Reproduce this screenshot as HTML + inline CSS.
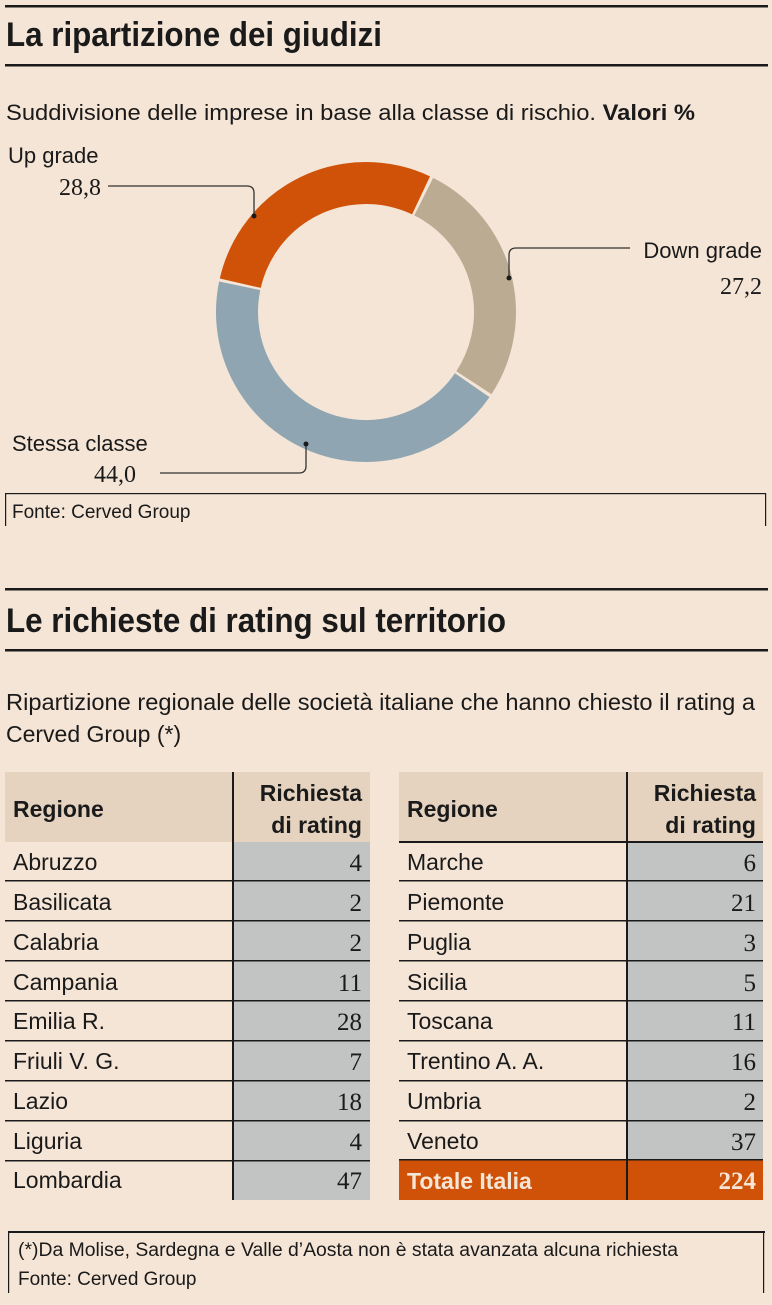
<!DOCTYPE html>
<html><head><meta charset="utf-8"><style>
html,body{margin:0;padding:0;background:#f5e5d6;}
svg{display:block}
.s{font-family:"Liberation Sans Narrow","Liberation Sans",sans-serif;fill:#1a1a1a}
.b{font-weight:bold}
.n{font-family:"Liberation Serif",serif;fill:#1a1a1a}
</style></head><body>
<svg width="772" height="1305" viewBox="0 0 772 1305" xmlns="http://www.w3.org/2000/svg">
<rect width="772" height="1305" fill="#f5e5d6"/>
<rect x="5" y="5" width="763" height="2.5" fill="#1a1a1a"/>
<text class="s b" x="6" y="46" font-size="34" textLength="376" lengthAdjust="spacingAndGlyphs">La ripartizione dei giudizi</text>
<rect x="5" y="64" width="763" height="2.5" fill="#1a1a1a"/>
<text class="s" x="6" y="120" font-size="22" textLength="689" lengthAdjust="spacingAndGlyphs">Suddivisione delle imprese in base alla classe di rischio. <tspan class="b">Valori %</tspan></text>
<g transform="rotate(-167.1 366 312)" fill="none" stroke-width="42">
<circle cx="366" cy="312" r="129" stroke="#cf5208" stroke-dasharray="230.4 600" stroke-dashoffset="0"/>
<circle cx="366" cy="312" r="129" stroke="#bcab93" stroke-dasharray="217.5 600" stroke-dashoffset="-233.4"/>
<circle cx="366" cy="312" r="129" stroke="#8fa5b1" stroke-dasharray="353.6 600" stroke-dashoffset="-453.9"/>
</g>
<g fill="none" stroke="#333" stroke-width="1.3">
<path d="M108 186 H247 Q254 186 254 193 V216"/>
<path d="M630 248 H516 Q509 248 509 255 V278"/>
<path d="M160 473 H299 Q306 473 306 466 V444"/>
</g>
<circle cx="254" cy="216" r="2.5" fill="#1a1a1a"/>
<circle cx="509" cy="278" r="2.5" fill="#1a1a1a"/>
<circle cx="306" cy="444" r="2.5" fill="#1a1a1a"/>
<text class="s" x="8" y="163" font-size="22">Up grade</text>
<text class="n" x="101" y="195" font-size="24" text-anchor="end">28,8</text>
<text class="s" x="762" y="258" font-size="22" text-anchor="end">Down grade</text>
<text class="n" x="762" y="294" font-size="24" text-anchor="end">27,2</text>
<text class="s" x="12" y="451" font-size="22">Stessa classe</text>
<text class="n" x="136" y="482" font-size="24" text-anchor="end">44,0</text>
<rect x="5" y="493" width="761" height="1.2" fill="#1a1a1a"/>
<rect x="5" y="493" width="1.2" height="33" fill="#1a1a1a"/>
<rect x="765" y="493" width="1.2" height="33" fill="#1a1a1a"/>
<text class="s" x="12" y="518" font-size="19">Fonte: Cerved Group</text>
<rect x="5" y="588" width="763" height="2.5" fill="#1a1a1a"/>
<text class="s b" x="6" y="632" font-size="34" textLength="500" lengthAdjust="spacingAndGlyphs">Le richieste di rating sul territorio</text>
<rect x="5" y="649" width="763" height="2.5" fill="#1a1a1a"/>
<text class="s" x="6" y="710" font-size="23" textLength="749" lengthAdjust="spacingAndGlyphs">Ripartizione regionale delle società italiane che hanno chiesto il rating a</text>
<text class="s" x="6" y="742" font-size="23">Cerved Group (*)</text>
<rect x="5" y="772" width="365" height="70" fill="#e5d3c0"/>
<rect x="233" y="842" width="137" height="358" fill="#c2c4c3"/>
<rect x="232" y="772" width="2" height="428" fill="#1a1a1a"/>
<text class="s b" x="13" y="817" font-size="23">Regione</text>
<text class="s b" x="362" y="801" font-size="23" text-anchor="end">Richiesta</text>
<text class="s b" x="362" y="833" font-size="23" text-anchor="end">di rating</text>
<g fill="#1a1a1a">
<rect x="5" y="880" width="365" height="1.5"/><rect x="5" y="920" width="365" height="1.5"/>
<rect x="5" y="960" width="365" height="1.5"/><rect x="5" y="1000" width="365" height="1.5"/>
<rect x="5" y="1040" width="365" height="1.5"/><rect x="5" y="1080" width="365" height="1.5"/>
<rect x="5" y="1120" width="365" height="1.5"/><rect x="5" y="1160" width="365" height="1.5"/>
</g>
<g font-size="23">
<text class="s" x="13" y="870">Abruzzo</text><text class="s" x="13" y="910">Basilicata</text>
<text class="s" x="13" y="950">Calabria</text><text class="s" x="13" y="990">Campania</text>
<text class="s" x="13" y="1029">Emilia R.</text><text class="s" x="13" y="1069">Friuli V. G.</text>
<text class="s" x="13" y="1109">Lazio</text><text class="s" x="13" y="1149">Liguria</text>
<text class="s" x="13" y="1188">Lombardia</text>
</g>
<g font-size="25" text-anchor="end">
<text class="n" x="362" y="871">4</text><text class="n" x="362" y="911">2</text>
<text class="n" x="362" y="951">2</text><text class="n" x="362" y="991">11</text>
<text class="n" x="362" y="1030">28</text><text class="n" x="362" y="1070">7</text>
<text class="n" x="362" y="1110">18</text><text class="n" x="362" y="1150">4</text>
<text class="n" x="362" y="1189">47</text>
</g>
<rect x="399" y="772" width="364" height="70" fill="#e5d3c0"/>
<rect x="627" y="842" width="136" height="318" fill="#c2c4c3"/>
<rect x="399" y="1160" width="364" height="40" fill="#cf5208"/>
<rect x="626" y="772" width="2" height="428" fill="#1a1a1a"/>
<rect x="399" y="841" width="364" height="2" fill="#1a1a1a"/>
<g fill="#1a1a1a">
<rect x="399" y="880" width="364" height="1.5"/><rect x="399" y="920" width="364" height="1.5"/>
<rect x="399" y="960" width="364" height="1.5"/><rect x="399" y="1000" width="364" height="1.5"/>
<rect x="399" y="1040" width="364" height="1.5"/><rect x="399" y="1080" width="364" height="1.5"/>
<rect x="399" y="1120" width="364" height="1.5"/><rect x="399" y="1159" width="364" height="1.5"/>
</g>
<text class="s b" x="407" y="817" font-size="23">Regione</text>
<text class="s b" x="756" y="801" font-size="23" text-anchor="end">Richiesta</text>
<text class="s b" x="756" y="833" font-size="23" text-anchor="end">di rating</text>
<g font-size="23">
<text class="s" x="407" y="870">Marche</text><text class="s" x="407" y="910">Piemonte</text>
<text class="s" x="407" y="950">Puglia</text><text class="s" x="407" y="990">Sicilia</text>
<text class="s" x="407" y="1029">Toscana</text><text class="s" x="407" y="1069">Trentino A. A.</text>
<text class="s" x="407" y="1109">Umbria</text><text class="s" x="407" y="1149">Veneto</text>
<text class="s b" x="407" y="1189" style="fill:#f5e5d6">Totale Italia</text>
</g>
<g font-size="25" text-anchor="end">
<text class="n" x="756" y="871">6</text><text class="n" x="756" y="911">21</text>
<text class="n" x="756" y="951">3</text><text class="n" x="756" y="991">5</text>
<text class="n" x="756" y="1030">11</text><text class="n" x="756" y="1070">16</text>
<text class="n" x="756" y="1110">2</text><text class="n" x="756" y="1150">37</text>
<text class="n b" x="756" y="1189" style="fill:#f5e5d6">224</text>
</g>
<rect x="8" y="1231" width="757" height="2" fill="#1a1a1a"/>
<rect x="8" y="1231" width="1.2" height="62" fill="#1a1a1a"/>
<rect x="763" y="1231" width="1.2" height="62" fill="#1a1a1a"/>
<text class="s" x="18" y="1256" font-size="19" textLength="660" lengthAdjust="spacingAndGlyphs">(*)Da Molise, Sardegna e Valle d’Aosta non è stata avanzata alcuna richiesta</text>
<text class="s" x="18" y="1285" font-size="19">Fonte: Cerved Group</text>
</svg>
</body></html>
